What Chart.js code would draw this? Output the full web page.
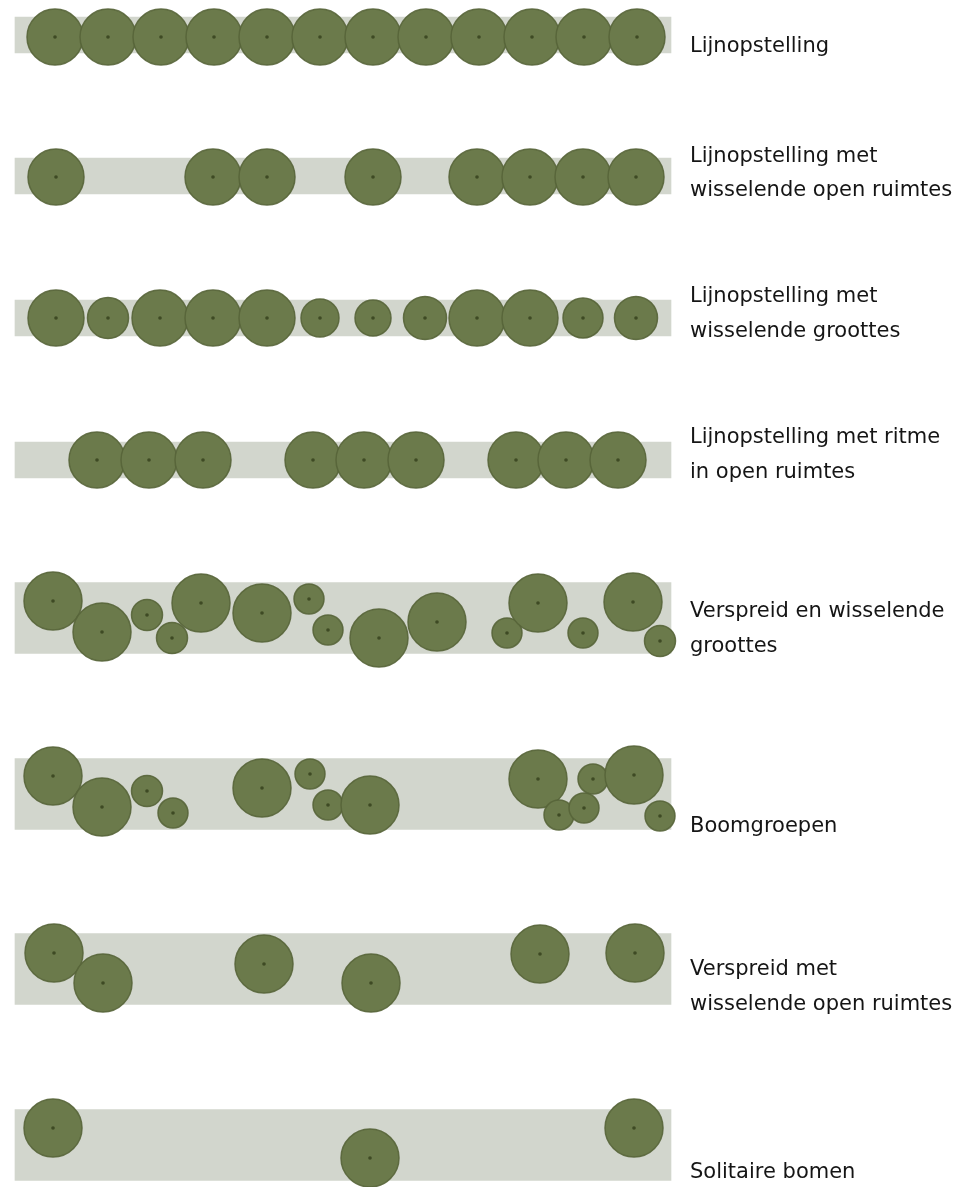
<!DOCTYPE html>
<html>
<head>
<meta charset="utf-8">
<script src="https://cdn.jsdelivr.net/npm/chart.js@4/dist/chart.umd.min.js"></script>
<style>
  html, body { margin: 0; padding: 0; background: #fff; }
  #wrap { position: relative; width: 978px; height: 1187px; }
</style>
</head>
<body>
<div id="wrap"><canvas id="plan"></canvas></div>
<script>
// --- Data: one entry per opstelling (row) ---
const rowLabels = [
  ['Lijnopstelling'],
  ['Lijnopstelling met', 'wisselende open ruimtes'],
  ['Lijnopstelling met', 'wisselende groottes'],
  ['Lijnopstelling met ritme', 'in open ruimtes'],
  ['Verspreid en wisselende', 'groottes'],
  ['Boomgroepen'],
  ['Verspreid met', 'wisselende open ruimtes'],
  ['Solitaire bomen']
];
// baseline (y) of each label line
const labelY = [[52], [162, 196], [302, 337], [443, 478], [617, 652], [832], [975, 1010], [1178]];

// strook (grey band): start, end, centre line and width
const bandStart = 15;
const bandEnd = 671;
const bandCentre = [35, 176, 318, 460, 618, 794, 969, 1145];
const bandWidth = [36, 36, 36, 36, 71, 71, 71, 71];

// bomen: x, y and crown radius per row
const treeX = [
  [55, 108, 161, 214, 267, 320, 373, 426, 479, 532, 584, 637],
  [56, 213, 267, 373, 477, 530, 583, 636],
  [56, 108, 160, 213, 267, 320, 373, 425, 477, 530, 583, 636],
  [97, 149, 203, 313, 364, 416, 516, 566, 618],
  [53, 102, 147, 172, 201, 262, 309, 328, 379, 437, 507, 538, 583, 633, 660],
  [53, 102, 147, 173, 262, 310, 328, 370, 538, 593, 634, 559, 584, 660],
  [54, 103, 264, 371, 540, 635],
  [53, 370, 634]
];
const treeY = [
  [37, 37, 37, 37, 37, 37, 37, 37, 37, 37, 37, 37],
  [177, 177, 177, 177, 177, 177, 177, 177],
  [318, 318, 318, 318, 318, 318, 318, 318, 318, 318, 318, 318],
  [460, 460, 460, 460, 460, 460, 460, 460, 460],
  [601, 632, 615, 638, 603, 613, 599, 630, 638, 622, 633, 603, 633, 602, 641],
  [776, 807, 791, 813, 788, 774, 805, 805, 779, 779, 775, 815, 808, 816],
  [953, 983, 964, 983, 954, 953],
  [1128, 1158, 1128]
];
const treeR = [
  [28, 28, 28, 28, 28, 28, 28, 28, 28, 28, 28, 28],
  [28, 28, 28, 28, 28, 28, 28, 28],
  [28, 20.5, 28, 28, 28, 19, 18, 21.5, 28, 28, 20, 21.5],
  [28, 28, 28, 28, 28, 28, 28, 28, 28],
  [29, 29, 15.5, 15.5, 29, 29, 15, 15, 29, 29, 15, 29, 15, 29, 15.5],
  [29, 29, 15.5, 15, 29, 15, 15, 29, 29, 15, 29, 15, 15, 15],
  [29, 29, 29, 29, 29, 29],
  [29, 29, 29]
];

// --- Build datasets ---
const narrowBands = [], wideBands = [];
bandCentre.forEach((c, i) => {
  const pt = { y: c, x: [bandStart, bandEnd] };
  if (bandWidth[i] < 50) narrowBands.push(pt); else wideBands.push(pt);
});

const trees = [], stems = [];
treeX.forEach((row, i) => {
  row.forEach((x, j) => {
    trees.push({ x: x, y: treeY[i][j], r: treeR[i][j] });
    stems.push({ x: x, y: treeY[i][j], r: 1.8 });
  });
});

const labelPlugin = {
  id: 'rowLabels',
  afterDatasetsDraw(chart) {
    const { ctx, scales } = chart;
    ctx.save();
    ctx.fillStyle = '#151515';
    ctx.font = '21px "DejaVu Sans", Verdana, sans-serif';
    ctx.textBaseline = 'alphabetic';
    rowLabels.forEach((lines, i) => {
      lines.forEach((txt, k) => {
        ctx.fillText(txt, scales.x.getPixelForValue(690), scales.y.getPixelForValue(labelY[i][k]));
      });
    });
    ctx.restore();
  }
};

const bandStyle = {
  type: 'bar',
  indexAxis: 'y',
  backgroundColor: '#d2d6cd',
  borderWidth: 0,
  grouped: false,
  order: 3
};

new Chart(document.getElementById('plan'), {
  data: {
    datasets: [
      Object.assign({}, bandStyle, { data: narrowBands, barThickness: 36 }),
      Object.assign({}, bandStyle, { data: wideBands, barThickness: 71 }),
      {
        type: 'bubble',
        data: trees,
        backgroundColor: '#6b7a4b',
        borderColor: 'rgba(86,100,56,0.9)',
        borderWidth: 1.5,
        clip: false,
        order: 2
      },
      {
        type: 'bubble',
        data: stems,
        backgroundColor: '#3e4a24',
        borderWidth: 0,
        clip: false,
        order: 1
      }
    ]
  },
  options: {
    responsive: true,
    maintainAspectRatio: false,
    animation: false,
    events: [],
    layout: { padding: 0, autoPadding: false },
    plugins: { legend: { display: false }, tooltip: { enabled: false } },
    scales: {
      x: { type: 'linear', min: 0, max: 978, offset: false, display: false },
      y: { type: 'linear', min: 0, max: 1187, reverse: true, offset: false, display: false }
    }
  },
  plugins: [labelPlugin]
});
</script>
</body>
</html>
